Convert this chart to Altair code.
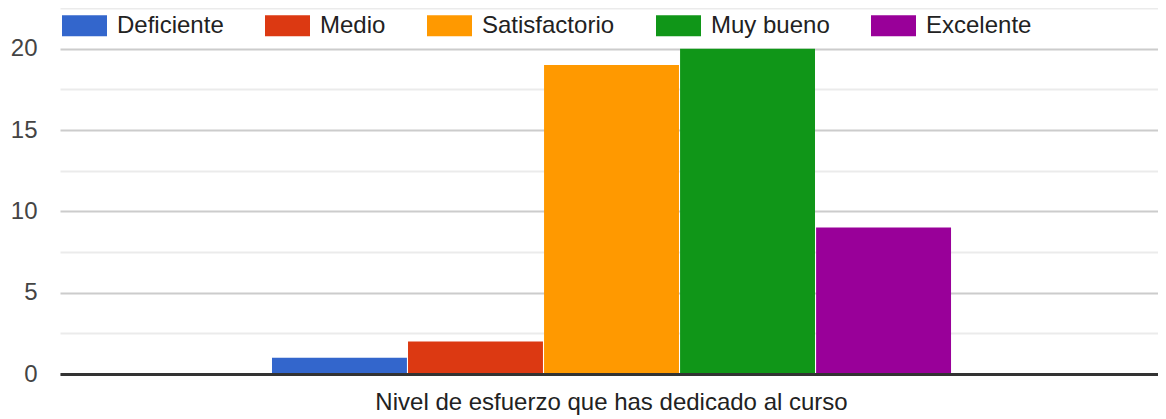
import altair as alt
import pandas as pd

group_label = "Nivel de esfuerzo que has dedicado al curso"
series = ["Deficiente", "Medio", "Satisfactorio", "Muy bueno", "Excelente"]
counts = [1, 2, 19, 20, 9]
colors = ["#3366cc", "#dc3912", "#ff9900", "#109618", "#990099"]
y_ticks = [0, 2.5, 5, 7.5, 10, 12.5, 15, 17.5, 20, 22.5]

df = pd.DataFrame({"grupo": [group_label] * len(series), "serie": series, "valor": counts})

FONT = "Liberation Sans"

chart = alt.Chart(df).mark_bar().encode(
    x=alt.X(
        "grupo:N",
        scale=alt.Scale(paddingInner=0, paddingOuter=0.3085, align=0.506),
        axis=alt.Axis(
            title=None,
            labelAngle=0,
            labelFontSize=24,
            labelFont=FONT,
            labelColor="#222222",
            labelPadding=16,
            labelLimit=0,
            ticks=False,
            tickSize=0,
            domainColor="#333333",
            domainWidth=3,
            grid=False,
            zindex=1,
        ),
    ),
    xOffset=alt.XOffset("serie:N", sort=series, scale=alt.Scale(paddingInner=0.008)),
    y=alt.Y(
        "valor:Q",
        scale=alt.Scale(domain=[0, 22.5], nice=False),
        axis=alt.Axis(
            title=None,
            values=y_ticks,
            labelExpr="datum.value % 5 === 0 ? datum.label : ''",
            labelFontSize=24,
            labelFont=FONT,
            labelColor="#444444",
            labelPadding=23,
            ticks=False,
            tickSize=0,
            domain=False,
            gridColor=alt.condition("datum.value % 5 === 0", alt.value("#cccccc"), alt.value("#ebebeb")),
            gridWidth=2,
            zindex=0,
        ),
    ),
    color=alt.Color(
        "serie:N",
        sort=series,
        scale=alt.Scale(domain=series, range=colors),
        legend=alt.Legend(
            title=None,
            orient="none",
            legendX=2,
            legendY=-5,
            direction="horizontal",
            columns=5,
            symbolType="M-1,-0.4667L1,-0.4667L1,0.4667L-1,0.4667Z",
            symbolSize=2025,
            symbolStrokeWidth=0,
            labelFontSize=24,
            labelFont=FONT,
            labelColor="#222222",
            labelOffset=10,
            columnPadding=41,
            padding=0,
        ),
    ),
).properties(
    width=1098,
    height=366,
    autosize=alt.AutoSizeParams(type="none"),
    padding={"left": 52, "top": 0, "right": 0, "bottom": 45},
).configure_view(stroke=None)

chart.save("out.html", embed_options={"renderer": "svg", "actions": False})
